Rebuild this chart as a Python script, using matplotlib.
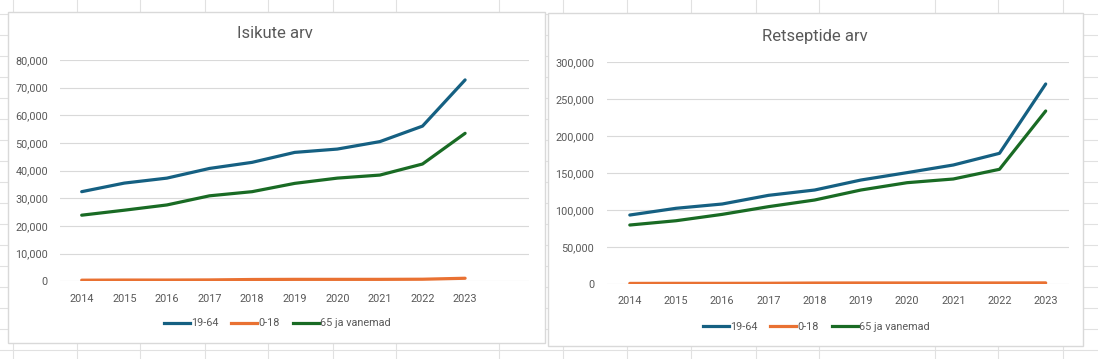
import matplotlib
matplotlib.use('Agg')
import matplotlib.pyplot as plt
from matplotlib.lines import Line2D
from matplotlib.patches import Rectangle
from matplotlib.ticker import FuncFormatter, MultipleLocator

years = ['2014', '2015', '2016', '2017', '2018', '2019', '2020', '2021', '2022', '2023']

# Isikute arv
persons_19_64 = [32400, 35500, 37300, 40800, 43000, 46600, 47800, 50500, 56100, 72800]
persons_0_18 = [400, 450, 450, 500, 650, 700, 700, 700, 750, 1100]
persons_65 = [23900, 25700, 27600, 30900, 32400, 35400, 37300, 38400, 42400, 53500]

# Retseptide arv
rx_19_64 = [93200, 102300, 108100, 119800, 127000, 140500, 150500, 160800, 176600, 270300]
rx_0_18 = [800, 900, 900, 1000, 1300, 1400, 1400, 1400, 1400, 1500]
rx_65 = [79700, 85500, 94100, 104500, 113500, 127000, 136900, 141900, 155000, 233800]

labels = ['19-64', '0-18', '65 ja vanemad']
colors = ['#156082', '#E97132', '#196B24']
text_col = '#595959'
grid_col = '#D9D9D9'

plt.rcParams['font.family'] = ['Roboto', 'DejaVu Sans']

W, H = 1098, 359
fig = plt.figure(figsize=(W / 100, H / 100), dpi=100)
fig.patch.set_facecolor('white')

# spreadsheet cell grid in the background
for x in [12.6, 76.5, 140.3, 204.5, 268.3, 332.5, 396.3, 499.1, 563.3, 627.2,
          691.4, 755.6, 819.4, 934.8, 998.2, 1062.5]:
    fig.add_artist(Line2D([x / W, x / W], [0, 1], color='#E1E1E1', lw=0.8, zorder=-5))
for y in range(14, 360, 21):
    fig.add_artist(Line2D([0, 1], [1 - y / H, 1 - y / H], color='#E1E1E1', lw=0.8, zorder=-5))

# chart boxes
for (x0, y0, x1, y1) in [(7.5, 11.7, 545.4, 342.7), (547.8, 13.3, 1083, 345.7)]:
    fig.add_artist(Rectangle((x0 / W, 1 - y1 / H), (x1 - x0) / W, (y1 - y0) / H,
                             facecolor='white', edgecolor=grid_col, lw=1.0, zorder=-2))


def draw(ax_rect, series, ymax, step, ncat, title, title_xy, leg_xy):
    ax = fig.add_axes(ax_rect)
    ax.set_facecolor('none')
    idx = list(range(len(years)))
    for vals, c in zip(series, colors):
        ax.plot(idx, vals, color=c, lw=2.3, solid_capstyle='round')
    ax.set_xlim(-0.5, ncat - 0.5)
    ax.set_ylim(0, ymax)
    ax.yaxis.set_major_locator(MultipleLocator(step))
    ax.yaxis.set_major_formatter(FuncFormatter(lambda v, p: f'{int(v):,}'))
    ax.set_xticks(idx)
    ax.set_xticklabels(years)
    ax.grid(axis='y', color=grid_col, lw=0.8)
    ax.set_axisbelow(True)
    for s in ax.spines.values():
        s.set_visible(False)
    ax.tick_params(length=0, colors=text_col, labelsize=7.8)
    ax.tick_params(axis='x', pad=9)
    ax.tick_params(axis='y', pad=9)
    fig.text(title_xy[0] / W, 1 - title_xy[1] / H, title, ha='center', va='center',
             fontsize=12, color=text_col)
    handles = [Line2D([0], [0], color=c, lw=2.3) for c in colors]
    fig.legend(handles, labels, loc='center', bbox_to_anchor=(leg_xy[0] / W, 1 - leg_xy[1] / H),
               ncol=3, frameon=False, fontsize=7.8, labelcolor=text_col, handlelength=2.4,
               handletextpad=0.1, columnspacing=1.2)
    return ax


draw([60.4 / W, 1 - 281.3 / H, (529 - 60.4) / W, (281.3 - 60) / H],
     [persons_19_64, persons_0_18, persons_65], 80000, 10000, 11,
     'Isikute arv', (275, 34), (277, 323.5))
draw([606.7 / W, 1 - 284 / H, (1068.8 - 606.7) / W, (284 - 62) / H],
     [rx_19_64, rx_0_18, rx_65], 300000, 50000, 10,
     'Retseptide arv', (815, 36), (816, 326.7))

fig.savefig('out.png', dpi=100)
